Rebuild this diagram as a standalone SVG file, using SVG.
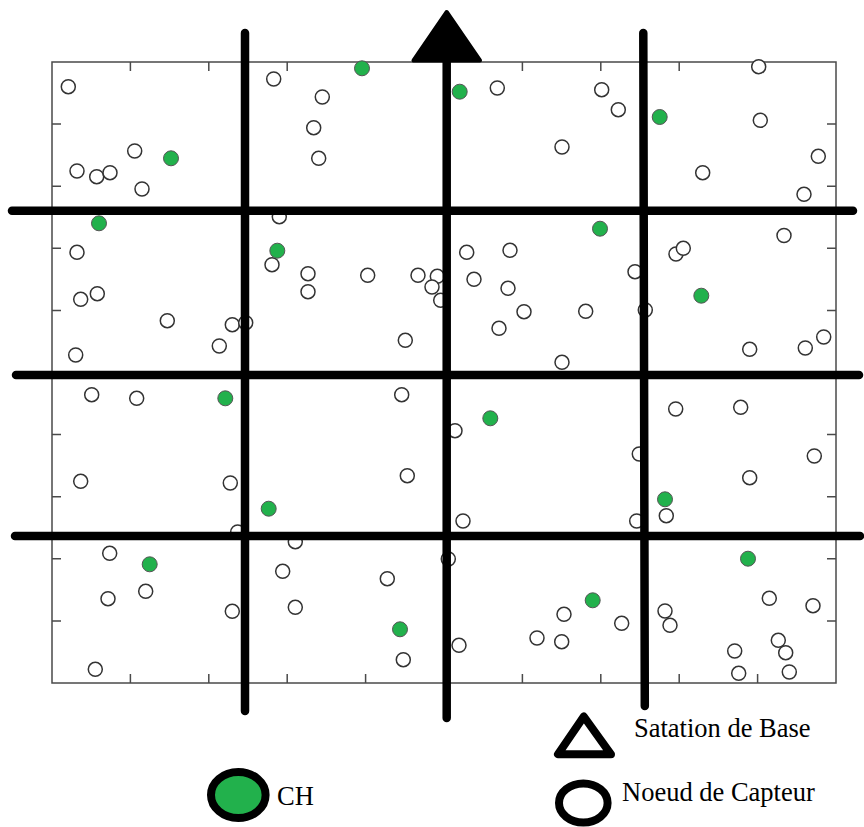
<svg xmlns="http://www.w3.org/2000/svg" width="864" height="827" viewBox="0 0 864 827">
<style>
.frame{fill:none;stroke:#4a4a4a;stroke-width:1.5}
.tick{stroke:#4a4a4a;stroke-width:1.5}
.s{fill:#fff;stroke:#333;stroke-width:1.5}
.ch{fill:#22b14c;stroke:#555;stroke-width:1}
.bar{stroke:#000;stroke-width:8.5;stroke-linecap:round;fill:none}
.lbl{font-family:"Liberation Serif","Times New Roman",serif;font-size:26.5px;fill:#000}
</style>
<rect width="864" height="827" fill="#fff"/>
<g id="frame">
<rect class="frame" x="52" y="62" width="784" height="621"/>
<path class="tick" d="M130.4 62v9M208.8 62v9M287.2 62v9M365.6 62v9M522.4 62v9M600.8 62v9M679.2 62v9M757.6 62v9
M130.4 683v-9M208.8 683v-9M287.2 683v-9M365.6 683v-9M444 683v-9M522.4 683v-9M600.8 683v-9M679.2 683v-9M757.6 683v-9
M52 124.1h9M52 186.2h9M52 248.3h9M52 310.4h9M52 372.5h9M52 434.6h9M52 496.7h9M52 558.8h9M52 620.9h9
M836 124.1h-9M836 186.2h-9M836 248.3h-9M836 310.4h-9M836 372.5h-9M836 434.6h-9M836 496.7h-9M836 558.8h-9M836 620.9h-9"/>
</g>
<g id="sensors">
<g id="s1"><circle class="s" cx="68.3" cy="86.7" r="7"/></g>
<g id="s2"><circle class="s" cx="134.7" cy="151" r="7"/></g>
<g id="s3"><circle class="s" cx="77" cy="171" r="7"/></g>
<g id="s4"><circle class="s" cx="96.7" cy="176.7" r="7"/></g>
<g id="s5"><circle class="s" cx="110" cy="172.7" r="7"/></g>
<g id="s6"><circle class="s" cx="142" cy="189" r="7"/></g>
<g id="s7"><circle class="s" cx="273.7" cy="79" r="7"/></g>
<g id="s8"><circle class="s" cx="279.3" cy="216.7" r="7"/></g>
<g id="s9"><circle class="s" cx="322.3" cy="97" r="7"/></g>
<g id="s10"><circle class="s" cx="313.7" cy="127.7" r="7"/></g>
<g id="s11"><circle class="s" cx="318.7" cy="158.3" r="7"/></g>
<g id="s12"><circle class="s" cx="497.3" cy="88" r="7"/></g>
<g id="s13"><circle class="s" cx="562" cy="147" r="7"/></g>
<g id="s14"><circle class="s" cx="601.7" cy="89.7" r="7"/></g>
<g id="s15"><circle class="s" cx="618.3" cy="109.7" r="7"/></g>
<g id="s16"><circle class="s" cx="758.7" cy="66.7" r="7"/></g>
<g id="s17"><circle class="s" cx="760.3" cy="120.3" r="7"/></g>
<g id="s18"><circle class="s" cx="818.3" cy="156.3" r="7"/></g>
<g id="s19"><circle class="s" cx="702.7" cy="172.7" r="7"/></g>
<g id="s20"><circle class="s" cx="804" cy="194.3" r="7"/></g>
<g id="s21"><circle class="s" cx="784" cy="235.5" r="7"/></g>
<g id="s22"><circle class="s" cx="77" cy="252.3" r="7"/></g>
<g id="s23"><circle class="s" cx="80.7" cy="299.3" r="7"/></g>
<g id="s24"><circle class="s" cx="97.3" cy="293.7" r="7"/></g>
<g id="s25"><circle class="s" cx="167.3" cy="320.7" r="7"/></g>
<g id="s26"><circle class="s" cx="232.3" cy="324.7" r="7"/></g>
<g id="s27"><circle class="s" cx="245.7" cy="322.7" r="7"/></g>
<g id="s28"><circle class="s" cx="219.3" cy="346" r="7"/></g>
<g id="s29"><circle class="s" cx="75.7" cy="355" r="7"/></g>
<g id="s30"><circle class="s" cx="91.7" cy="394.7" r="7"/></g>
<g id="s31"><circle class="s" cx="136.7" cy="398.3" r="7"/></g>
<g id="s32"><circle class="s" cx="272" cy="264.7" r="7"/></g>
<g id="s33"><circle class="s" cx="308" cy="273.7" r="7"/></g>
<g id="s34"><circle class="s" cx="308" cy="291.7" r="7"/></g>
<g id="s35"><circle class="s" cx="367.7" cy="275.3" r="7"/></g>
<g id="s36"><circle class="s" cx="418" cy="275.3" r="7"/></g>
<g id="s37"><circle class="s" cx="437.3" cy="276.3" r="7"/></g>
<g id="s38"><circle class="s" cx="432" cy="287" r="7"/></g>
<g id="s39"><circle class="s" cx="440.7" cy="300.3" r="7"/></g>
<g id="s40"><circle class="s" cx="466.7" cy="252.3" r="7"/></g>
<g id="s41"><circle class="s" cx="510" cy="250.3" r="7"/></g>
<g id="s42"><circle class="s" cx="474" cy="279.3" r="7"/></g>
<g id="s43"><circle class="s" cx="508" cy="288.3" r="7"/></g>
<g id="s44"><circle class="s" cx="524" cy="311.7" r="7"/></g>
<g id="s45"><circle class="s" cx="499" cy="328.3" r="7"/></g>
<g id="s46"><circle class="s" cx="405.3" cy="340.3" r="7"/></g>
<g id="s47"><circle class="s" cx="562" cy="362.3" r="7"/></g>
<g id="s48"><circle class="s" cx="401.7" cy="394.7" r="7"/></g>
<g id="s49"><circle class="s" cx="455" cy="430.7" r="7"/></g>
<g id="s50"><circle class="s" cx="676" cy="254" r="7"/></g>
<g id="s51"><circle class="s" cx="683.3" cy="248.3" r="7"/></g>
<g id="s52"><circle class="s" cx="635" cy="271.7" r="7"/></g>
<g id="s53"><circle class="s" cx="585.7" cy="311.3" r="7"/></g>
<g id="s54"><circle class="s" cx="645.3" cy="310" r="7"/></g>
<g id="s55"><circle class="s" cx="749.7" cy="349.3" r="7"/></g>
<g id="s56"><circle class="s" cx="805.3" cy="348" r="7"/></g>
<g id="s57"><circle class="s" cx="823.7" cy="337" r="7"/></g>
<g id="s58"><circle class="s" cx="675.7" cy="409" r="7"/></g>
<g id="s59"><circle class="s" cx="740.7" cy="407.3" r="7"/></g>
<g id="s60"><circle class="s" cx="639.3" cy="454" r="7"/></g>
<g id="s61"><circle class="s" cx="814.3" cy="456" r="7"/></g>
<g id="s62"><circle class="s" cx="80.7" cy="481.3" r="7"/></g>
<g id="s63"><circle class="s" cx="230.3" cy="483" r="7"/></g>
<g id="s64"><circle class="s" cx="237.7" cy="532" r="7"/></g>
<g id="s65"><circle class="s" cx="109.7" cy="553.3" r="7"/></g>
<g id="s66"><circle class="s" cx="108" cy="598.7" r="7"/></g>
<g id="s67"><circle class="s" cx="145.7" cy="591.3" r="7"/></g>
<g id="s68"><circle class="s" cx="232.3" cy="611.3" r="7"/></g>
<g id="s69"><circle class="s" cx="95.3" cy="669.3" r="7"/></g>
<g id="s70"><circle class="s" cx="282.7" cy="571.3" r="7"/></g>
<g id="s71"><circle class="s" cx="295.3" cy="607.3" r="7"/></g>
<g id="s72"><circle class="s" cx="295.3" cy="541.7" r="7"/></g>
<g id="s73"><circle class="s" cx="407.3" cy="475.7" r="7"/></g>
<g id="s74"><circle class="s" cx="463" cy="521" r="7"/></g>
<g id="s75"><circle class="s" cx="448.3" cy="559" r="7"/></g>
<g id="s76"><circle class="s" cx="387.3" cy="578.7" r="7"/></g>
<g id="s77"><circle class="s" cx="403.3" cy="659.7" r="7"/></g>
<g id="s78"><circle class="s" cx="459" cy="645.3" r="7"/></g>
<g id="s79"><circle class="s" cx="564" cy="614.3" r="7"/></g>
<g id="s80"><circle class="s" cx="537" cy="638" r="7"/></g>
<g id="s81"><circle class="s" cx="561.7" cy="641.7" r="7"/></g>
<g id="s82"><circle class="s" cx="749.7" cy="477.7" r="7"/></g>
<g id="s83"><circle class="s" cx="666.3" cy="515.7" r="7"/></g>
<g id="s84"><circle class="s" cx="636.7" cy="521" r="7"/></g>
<g id="s85"><circle class="s" cx="621.7" cy="623.3" r="7"/></g>
<g id="s86"><circle class="s" cx="665" cy="611" r="7"/></g>
<g id="s87"><circle class="s" cx="670" cy="625.3" r="7"/></g>
<g id="s88"><circle class="s" cx="769.3" cy="598.3" r="7"/></g>
<g id="s89"><circle class="s" cx="813" cy="605.7" r="7"/></g>
<g id="s90"><circle class="s" cx="778.3" cy="640.3" r="7"/></g>
<g id="s91"><circle class="s" cx="785.7" cy="652.7" r="7"/></g>
<g id="s92"><circle class="s" cx="734.7" cy="651" r="7"/></g>
<g id="s93"><circle class="s" cx="738.7" cy="673.3" r="7"/></g>
<g id="s94"><circle class="s" cx="789.3" cy="672" r="7"/></g>
</g>
<g id="cluster-heads">
<g id="ch1"><circle class="ch" cx="171" cy="158.3" r="7.5"/></g>
<g id="ch2"><circle class="ch" cx="99" cy="223.3" r="7.5"/></g>
<g id="ch3"><circle class="ch" cx="362" cy="68.3" r="7.5"/></g>
<g id="ch4"><circle class="ch" cx="459.7" cy="91.7" r="7.5"/></g>
<g id="ch5"><circle class="ch" cx="659.7" cy="117" r="7.5"/></g>
<g id="ch6"><circle class="ch" cx="600" cy="228.7" r="7.5"/></g>
<g id="ch7"><circle class="ch" cx="277.3" cy="250.7" r="7.5"/></g>
<g id="ch8"><circle class="ch" cx="225.3" cy="398.3" r="7.5"/></g>
<g id="ch9"><circle class="ch" cx="490.3" cy="418.3" r="7.5"/></g>
<g id="ch10"><circle class="ch" cx="701.3" cy="295.7" r="7.5"/></g>
<g id="ch11"><circle class="ch" cx="268.7" cy="508.7" r="7.5"/></g>
<g id="ch12"><circle class="ch" cx="149.7" cy="564.3" r="7.5"/></g>
<g id="ch13"><circle class="ch" cx="400" cy="629.3" r="7.5"/></g>
<g id="ch14"><circle class="ch" cx="665" cy="499.3" r="7.5"/></g>
<g id="ch15"><circle class="ch" cx="748" cy="558.7" r="7.5"/></g>
<g id="ch16"><circle class="ch" cx="592.7" cy="600.3" r="7.5"/></g>
</g>
<g id="connectors">
<path class="bar" d="M245 33V711"/>
<path class="bar" d="M446.7 60V718"/>
<path class="bar" d="M643.3 33L644.8 706"/>
<path class="bar" d="M12 210.7H853"/>
<path class="bar" d="M16 375H859"/>
<path class="bar" d="M15 536H860"/>
</g>
<g id="base-station">
<path d="M446.7 12L413.5 60.5H480Z" fill="#000" stroke="#000" stroke-width="4" stroke-linejoin="round"/>
</g>
<g id="legend">
<g id="legend-ch">
<ellipse cx="238.3" cy="795" rx="27.3" ry="23" fill="#22b14c" stroke="#000" stroke-width="8"/>
<text class="lbl" x="277" y="805">CH</text>
</g>
<g id="legend-bs">
<path d="M583.8 716.5L558 754.3H611Z" fill="#fff" stroke="#000" stroke-width="8" stroke-linejoin="round"/>
<text class="lbl" x="634" y="737">Satation de Base</text>
</g>
<g id="legend-node">
<ellipse cx="583.3" cy="803" rx="24.3" ry="19.5" fill="#fff" stroke="#000" stroke-width="8"/>
<text class="lbl" x="622" y="801">Noeud de Capteur</text>
</g>
</g>
</svg>
